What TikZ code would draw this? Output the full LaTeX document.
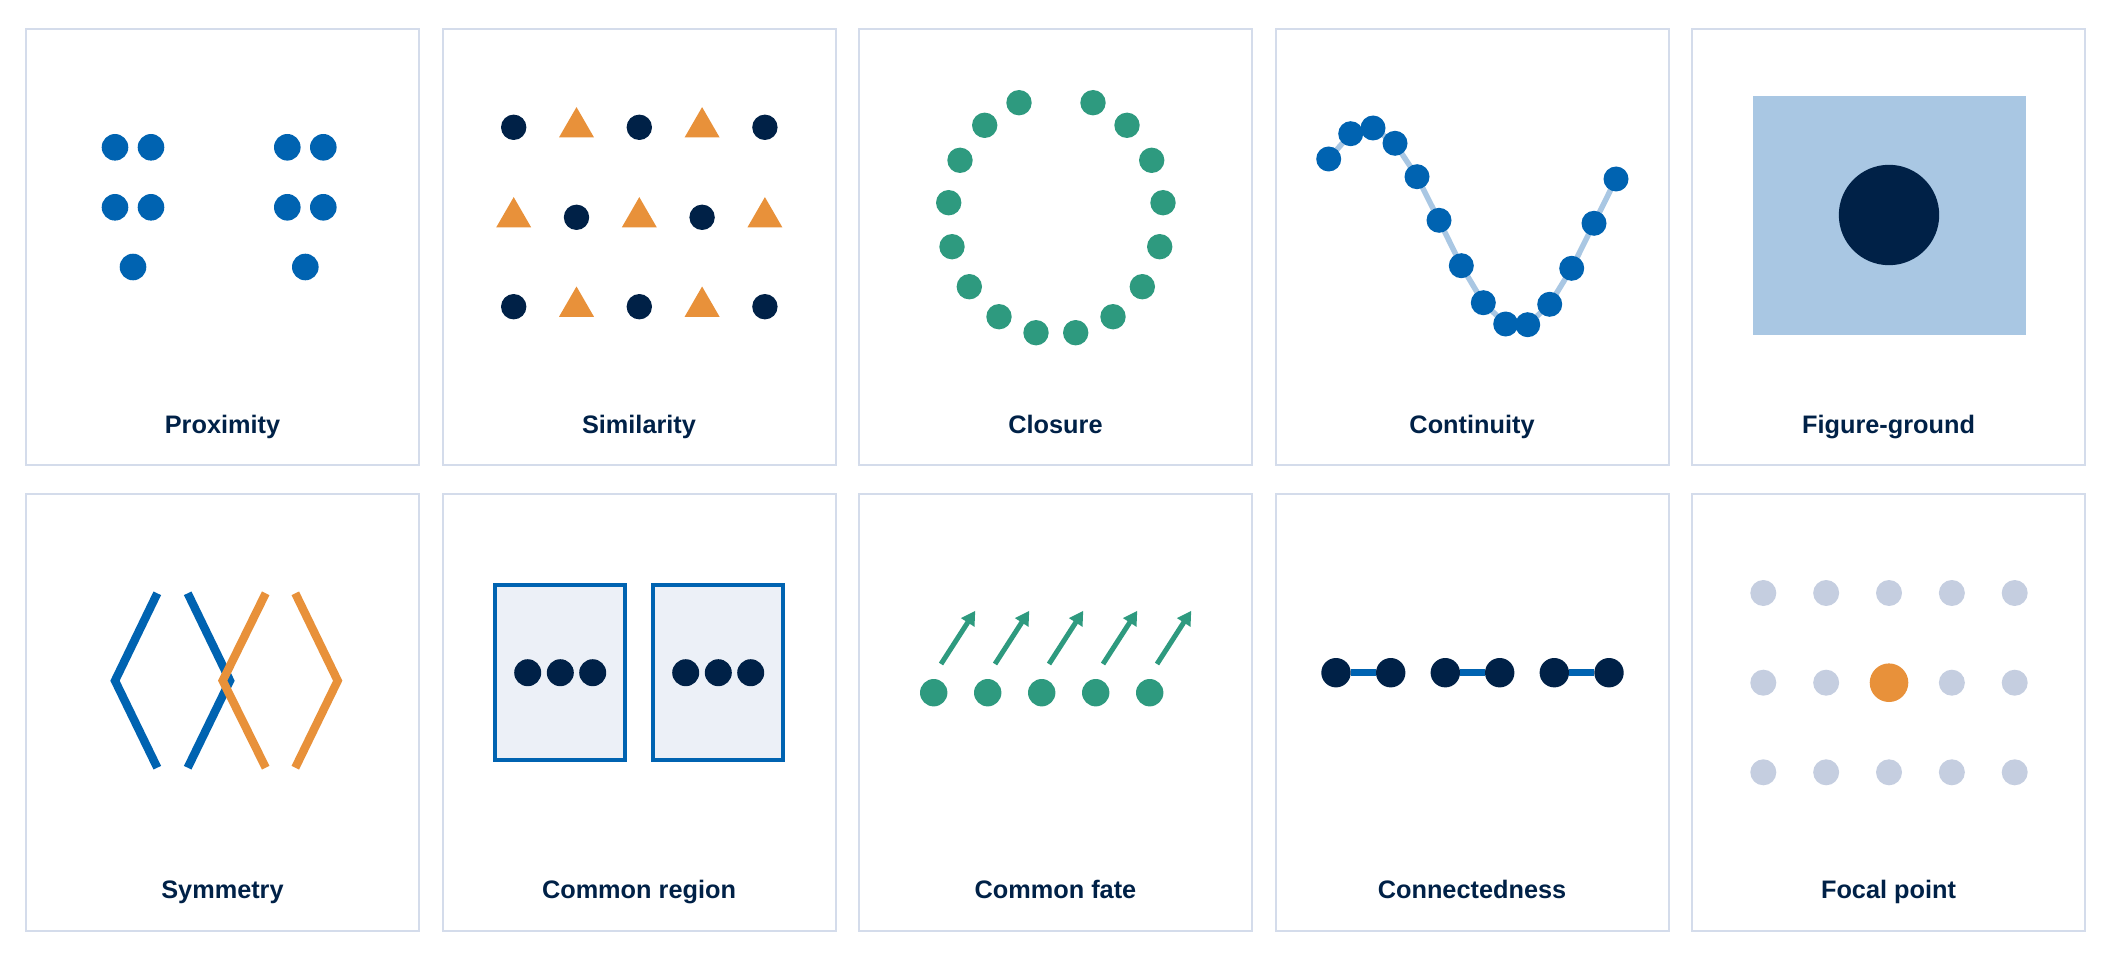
\documentclass[tikz,border=0pt]{standalone}
\usepackage{fontspec}
\setmainfont{Liberation Sans}
\usetikzlibrary{positioning}
\usetikzlibrary{arrows.meta}
\usetikzlibrary{shapes.geometric}
\usetikzlibrary{backgrounds}

\definecolor{navy}{RGB}{0,33,71}
\definecolor{gblue}{RGB}{0,99,177}
\definecolor{lblue}{RGB}{169,199,227}
\definecolor{gorange}{RGB}{232,145,58}
\definecolor{ggreen}{RGB}{46,154,127}
\definecolor{ggray}{RGB}{197,206,224}
\definecolor{frame}{RGB}{212,220,235}
\definecolor{region}{RGB}{236,240,247}

\begin{document}
\begin{tikzpicture}[x=1pt, y=-1pt,
    dot/.style={circle, fill, inner sep=0pt, minimum size=#1},
    dot/.default=26pt,
    tri/.style={regular polygon, regular polygon sides=3, fill=gorange, inner sep=0pt, minimum size=40.4pt},
    panel/.style={draw=frame, line width=2pt},
    chevron/.style={line width=8.4pt},
    title/.style={font=\bfseries\fontsize{25.3}{30}\selectfont, text=navy, anchor=base}]
  \useasboundingbox (0,0) rectangle (2112,960);

  % panels and titles
  \foreach \c in {0,...,4}{
    \draw[panel] ({26+416.5*\c},29) rectangle ++(393,436);
    \draw[panel] ({26+416.5*\c},494) rectangle ++(393,437);
  }
  \foreach \t [count=\i from 0] in {Proximity,Similarity,Closure,Continuity,Figure-ground}
    \node[title] (top\i) at ({222.5+416.5*\i},433) {\t};
  \foreach \t [count=\i from 0] in {Symmetry,Common region,Common fate,Connectedness,Focal point}
    \node[title] (bot\i) at ({222.5+416.5*\i},898) {\t};

  % Proximity
  \foreach \gx [count=\g] in {115,287.3}{
    \node[dot=26.6pt, gblue] (px\g-1) at (\gx,147.3) {};
    \node[dot=26.6pt, gblue] (px\g-2) at ({\gx+36},147.3) {};
    \node[dot=26.6pt, gblue] (px\g-3) at (\gx,207.3) {};
    \node[dot=26.6pt, gblue] (px\g-4) at ({\gx+36},207.3) {};
    \node[dot=26.6pt, gblue] (px\g-5) at ({\gx+18},267) {};
  }

  % Similarity
  \foreach \r/\y in {1/127.3,2/217.3,3/306.7}
    \foreach \c in {1,...,5}{
      \pgfmathtruncatemacro\k{\r+\c}
      \ifodd\k
        \node[tri] (sm\r-\c) at ({450.9+62.8*\c},\y) {};
      \else
        \node[dot=25.4pt, navy] (sm\r-\c) at ({450.9+62.8*\c},\y) {};
      \fi
    }

  % Closure
  \foreach \x/\y [count=\i] in {1019/102.7, 984.7/125.3, 960/160.3, 948.7/202.7,
      952/246.7, 969.3/286.7, 999/316.7, 1036/332.7, 1075.7/332.7, 1113/316.7,
      1142.3/286.7, 1159.7/246.7, 1163/202.7, 1151.7/160.3, 1127/125.3, 1093/102.7}
    \node[dot=25.4pt, ggreen] (cl\i) at (\x,\y) {};

  % Continuity
  \foreach \x/\y [count=\i] in {1328.7/159, 1350.7/133.7, 1373/128, 1395/143.3,
      1417/176.7, 1439/220.3, 1461.3/265.7, 1483.3/302.7, 1505.7/324,
      1527.7/324.7, 1549.7/304.3, 1571.7/268.3, 1594/223.3, 1616/179}
    \node[dot=25pt, gblue] (ct\i) at (\x,\y) {};
  \begin{scope}[on background layer]
    \draw[lblue, line width=5.5pt, line join=round] (ct1.center)
      \foreach \i in {2,...,14}{ -- (ct\i.center)};
  \end{scope}

  % Figure-ground
  \node[fill=lblue, inner sep=0pt, minimum width=273pt, minimum height=238.7pt] (ground) at (1889.5,215.3) {};
  \node[dot=100.4pt, navy] (figure) at (1889,215) {};

  % Symmetry
  \draw[chevron, gblue] (157.3,593.3) -- (115,680.7) -- (157.3,767.7);
  \draw[chevron, gblue] (187.7,593.3) -- (230,680.7) -- (187.7,767.7);
  \draw[chevron, gorange] (265.7,593.3) -- (222.7,680.7) -- (265.7,767.7);
  \draw[chevron, gorange] (295.3,593.3) -- (337.7,680.7) -- (295.3,767.7);

  % Common region
  \node[draw=gblue, fill=region, line width=4pt, inner sep=0pt, minimum width=129.7pt, minimum height=175pt] (rg1) at (560.2,672.8) {};
  \node[draw=gblue, fill=region, line width=4pt, inner sep=0pt, minimum width=130pt, minimum height=175pt] (rg2) at (718.3,672.8) {};
  \foreach \x [count=\i] in {527.7,560.3,592.7,685.7,718.3,750.7}
    \node[dot=27pt, navy] (rd\i) at (\x,672.7) {};

  % Common fate
  \foreach \k in {0,...,4}{
    \node[dot=27.4pt, ggreen] (cf\k) at ({933.7+54*\k},692.7) {};
    \coordinate (fs\k) at ({941+54*\k},664);
    \coordinate (fe\k) at ({975.3+54*\k},610.7);
    \draw[ggreen, line width=5pt, -{Triangle[length=14pt, width=15pt]}] (fs\k) -- (fe\k);
  }

  % Connectedness
  \foreach \x [count=\i] in {1336,1390.7,1445.3,1499.7,1554.3,1609}
    \node[dot=29.4pt, navy] (cn\i) at (\x,672.7) {};
  \draw[gblue, line width=7pt] (cn1) -- (cn2);
  \draw[gblue, line width=7pt] (cn3) -- (cn4);
  \draw[gblue, line width=7pt] (cn5) -- (cn6);

  % Focal point
  \foreach \y [count=\r] in {593,682.7,772.3}
    \foreach \c in {0,...,4}{
      \ifnum\r\c=22
        \node[dot=38.6pt, gorange] (fp\r-\c) at ({1763.3+62.85*\c},\y) {};
      \else
        \node[dot=26pt, ggray] (fp\r-\c) at ({1763.3+62.85*\c},\y) {};
      \fi
    }
\end{tikzpicture}
\end{document}
